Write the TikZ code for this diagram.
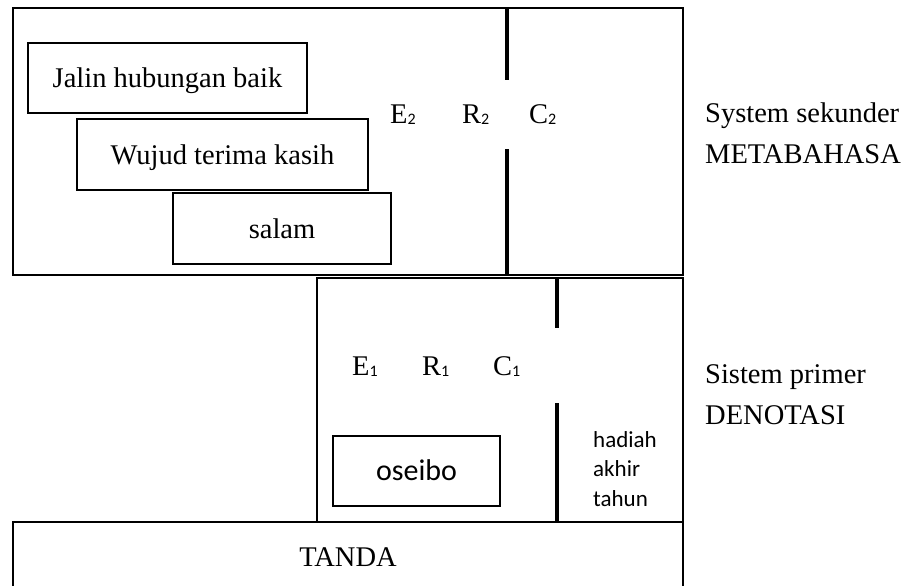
\documentclass[tikz,border=0pt]{standalone}
\usepackage{fontspec}
\setmainfont{Liberation Serif}
\newfontfamily\sansf{Carlito}
\newcommand\sbs[1]{\raisebox{-1.5pt}{\fontsize{16}{16}\selectfont\sansf #1}}
\begin{document}
\begin{tikzpicture}[x=1pt,y=-1pt,
  frame/.style={line width=1.5pt},
  bar/.style={line width=4.5pt},
  tbox/.style={draw, line width=1.5pt, inner sep=0pt, text height=19pt, text depth=0pt,
    font=\fontsize{28.5}{34}\selectfont},
  sbox/.style={tbox, font=\fontsize{30}{36}\selectfont\sansf},
  lbl/.style={inner sep=0pt, anchor=base west, font=\fontsize{28.5}{34}\selectfont},
  side/.style={inner sep=0pt, anchor=base west, align=left, font=\fontsize{28.5}{41}\selectfont},
  note/.style={inner sep=0pt, anchor=base west, align=left, font=\fontsize{23}{29.5}\selectfont\sansf}]
\useasboundingbox (0,0) rectangle (916,586);
\fill[white] (0,0) rectangle (916,586);
\clip (0,0) rectangle (916,586);
% frames
\draw[frame] (13,8) rectangle (683,275);
\draw[frame] (317,278) rectangle (683,522);
\node[tbox, minimum width=670pt, minimum height=70pt] (tanda) at (348,557) {TANDA};
% bars
\draw[bar] (507,8) -- (507,80);
\draw[bar] (507,149) -- (507,276);
\draw[bar] (557,277) -- (557,328);
\draw[bar] (557,403) -- (557,522);
% secondary system boxes
\node[tbox, minimum width=279pt, minimum height=70pt] (jalin) at (167.5,78) {Jalin hubungan baik};
\node[tbox, minimum width=291pt, minimum height=71pt] (wujud) at (222.5,154.5) {Wujud terima kasih};
\node[tbox, minimum width=218pt, minimum height=71pt] (salam) at (282,228.5) {salam};
\node[sbox, minimum width=167pt, minimum height=70pt] (oseibo) at (416.5,471) {oseibo};
% E R C labels
\node[lbl] (e2) at (390,123) {E\sbs{2}};
\node[lbl] (r2) at (462,123) {R\sbs{2}};
\node[lbl] (c2) at (529,123) {C\sbs{2}};
\node[lbl] (e1) at (352,375) {E\sbs{1}};
\node[lbl] (r1) at (422,375) {R\sbs{1}};
\node[lbl] (c1) at (493,375) {C\sbs{1}};
% side labels (base anchor = last line)
\node[side] (sek) at (705,163) {System sekunder\\METABAHASA};
\node[side] (pri) at (705,424) {Sistem primer\\DENOTASI};
\node[note] (hadiah) at (593,506) {hadiah\\akhir\\tahun};
\end{tikzpicture}
\end{document}
